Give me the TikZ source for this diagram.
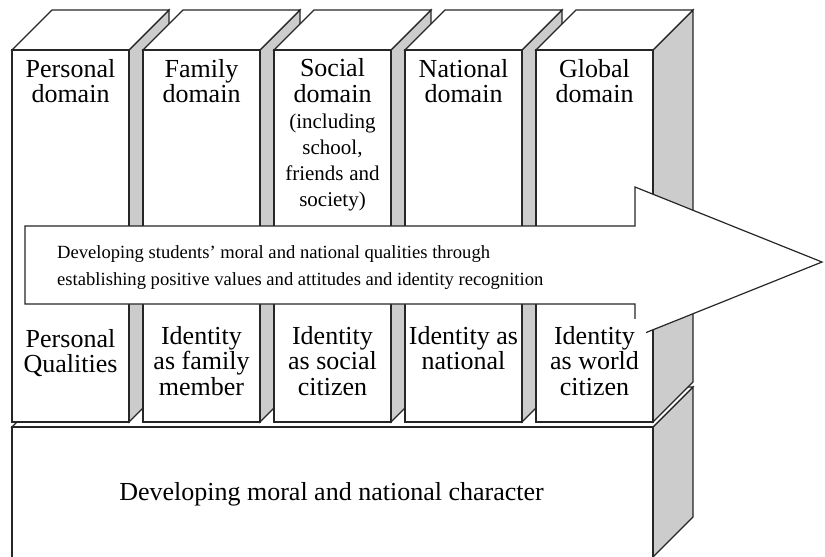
\documentclass[tikz,border=0pt]{standalone}
\usepackage{fontspec}
\setmainfont{Liberation Serif}
\begin{document}
\begin{tikzpicture}[x=1pt,y=-1pt,
  edge/.style={draw=black!85,line width=1.2pt,line join=miter},
  front/.style={edge,fill=white},
  side/.style={edge,fill=black!20},
  natspace/.style={execute at begin node={\spaceskip=0pt\xspaceskip=0pt}},
  toptext/.style={anchor=north,inner sep=0pt,text width=117pt,align=center,natspace,font=\fontsize{26}{25.5}\selectfont},
  lowtext/.style={anchor=north,inner sep=0pt,align=center,natspace,font=\fontsize{26}{25.5}\selectfont},
  arrowtext/.style={anchor=north west,inner sep=0pt,align=left,natspace,font=\fontsize{18.6}{27}\selectfont},
  basetext/.style={anchor=base,inner sep=0pt,font=\fontsize{26}{30}\selectfont}]
\useasboundingbox (0,0) rectangle (825,557);

% base block
\draw[side] (653,427) -- (693,387) -- (693,517) -- (653,557) -- cycle;
\draw[front] (12,427) -- (52,387) -- (693,387) -- (653,427) -- cycle;
\fill[white] (12,427) rectangle (653,557);
\draw[edge] (12,557) -- (12,427) -- (653,427) -- (653,557);

% pillars
\foreach \i in {0,...,4}{
  \pgfmathsetmacro\xa{12+131*\i}
  \draw[side] (\xa+117,50) -- (\xa+157,10) -- (\xa+157,382) -- (\xa+117,422) -- cycle;
  \draw[front] (\xa,50) -- (\xa+40,10) -- (\xa+157,10) -- (\xa+117,50) -- cycle;
  \draw[front] (\xa,50) rectangle (\xa+117,422);
}

% top texts
\node[toptext] (t1) at (70.5,59) {Personal\\domain};
\node[toptext] (t2) at (201.5,59) {Family\\domain};
\node[toptext,font=\fontsize{26}{26}\selectfont] (t3) at (332.5,58) {Social\\domain\\{\fontsize{21}{26}\selectfont\spaceskip=0pt\xspaceskip=0pt (including\\school,\\friends and\\society)}};
\node[toptext] (t4) at (463.5,59) {National\\domain};
\node[toptext] (t5) at (594.5,59) {Global\\domain};

% arrow
\draw[front] (25,226) -- (635,226) -- (635,187) -- (822,262) -- (635,337) -- (635,304) -- (25,304) -- cycle;
\node[arrowtext] (at) at (57,245.5) {Developing students’ moral and national qualities through\\establishing positive values and attitudes and identity recognition};

% lower texts
\node[lowtext] (l1) at (70.5,329) {Personal\\Qualities};
\node[lowtext] (l2) at (201.5,326) {Identity\\as family\\member};
\node[lowtext] (l3) at (332.5,326) {Identity\\as social\\citizen};
\node[lowtext] (l4) at (463.5,326) {Identity as\\national};
\node[lowtext,inner sep=7pt,fill=white] (l5) at (594.5,319) {Identity\\as world\\citizen};

% base text
\node[basetext] (b) at (331.5,500) {Developing moral and national character};
\end{tikzpicture}
\end{document}
